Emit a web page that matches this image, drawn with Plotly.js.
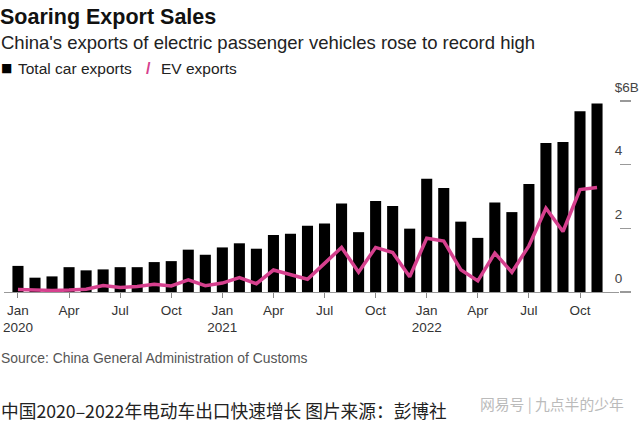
<!DOCTYPE html>
<html>
<head>
<meta charset="utf-8">
<script src="https://cdn.plot.ly/plotly-3.0.1.min.js"></script>
<style>html,body{margin:0;padding:0;background:#fff;}#chart{width:640px;height:422px;}</style>
</head>
<body>
<div id="chart"></div>
<script>
const months = ["2020-01","2020-02","2020-03","2020-04","2020-05","2020-06","2020-07","2020-08","2020-09","2020-10","2020-11","2020-12",
  "2021-01","2021-02","2021-03","2021-04","2021-05","2021-06","2021-07","2021-08","2021-09","2021-10","2021-11","2021-12",
  "2022-01","2022-02","2022-03","2022-04","2022-05","2022-06","2022-07","2022-08","2022-09","2022-10","2022-11"];
const totalCarExports = [0.82,0.45,0.49,0.78,0.68,0.71,0.78,0.78,0.94,0.97,1.33,1.17,
  1.40,1.53,1.36,1.79,1.83,2.08,2.15,2.78,1.88,2.86,2.70,1.99,
  3.56,3.27,2.21,1.70,2.81,2.51,3.39,4.68,4.71,5.68,5.92];
const evExports = [0.08,0.06,0.05,0.06,0.09,0.20,0.14,0.17,0.24,0.19,0.38,0.20,
  0.28,0.45,0.26,0.69,0.55,0.40,0.90,1.40,0.62,1.40,1.24,0.48,
  1.69,1.60,0.70,0.35,1.22,0.62,1.45,2.63,1.90,3.22,3.28];
const xTickVals = ["2020-01","2020-04","2020-07","2020-10","2021-01","2021-04","2021-07","2021-10","2022-01","2022-04","2022-07","2022-10"];
const xTickText = ["Jan<br>2020","Apr","Jul","Oct","Jan<br>2021","Apr","Jul","Oct","Jan<br>2022","Apr","Jul","Oct"];
const yTickVals = [0,2,4,6];
const yTickText = ["0","2","4","$6B"];

const FONT = '"Liberation Sans", Arial, Helvetica, sans-serif';
const PINK = '#d6408e';

const traces = [
  {type:'bar', x:months, y:totalCarExports, name:'Total car exports', marker:{color:'#000'}, showlegend:false, hoverinfo:'x+y'},
  {type:'scatter', mode:'lines', x:months, y:evExports, name:'EV exports', line:{color:PINK, width:3.5}, showlegend:false}
];

const layout = {
  width:640, height:422,
  margin:{l:4, r:21, t:101, b:130, autoexpand:false},
  paper_bgcolor:'#fff', plot_bgcolor:'#fff',
  font:{family:FONT, color:'#222'},
  bargap:0.35,
  title:{text:'<b>Soaring Export Sales</b>', x:0, xref:'container', xanchor:'left', y:0.962, yref:'container', yanchor:'middle',
    font:{family:FONT, size:21.5, color:'#111'}, pad:{l:0}},
  xaxis:{type:'category', range:[-0.82, 35.29], tickmode:'array', tickvals:xTickVals, ticktext:xTickText,
    ticks:'outside', ticklen:5, tickcolor:'#888', tickwidth:1,
    showline:true, linecolor:'#999', linewidth:1.3, showgrid:false, zeroline:false,
    tickfont:{family:FONT, size:13.5, color:'#333'}, automargin:false},
  yaxis:{side:'right', range:[0,6], tickmode:'array', tickvals:yTickVals, ticktext:yTickText,
    ticks:'outside', ticklen:11, tickcolor:'#999', tickwidth:1.3,
    showline:false, showgrid:false, zeroline:false,
    ticklabelstandoff:-19, ticklabelshift:-14,
    tickfont:{family:FONT, size:13.5, color:'#444'}, automargin:false},
  annotations:[
    {text:"China's exports of electric passenger vehicles rose to record high", xref:'paper', yref:'paper', x:0, y:1, xshift:-5, yshift:59,
      xanchor:'left', yanchor:'middle', showarrow:false, font:{family:FONT, size:18.5, color:'#222'}},
    {text:'■', xref:'paper', yref:'paper', x:0, y:1, xshift:-5, yshift:33, xanchor:'left', yanchor:'middle', showarrow:false,
      font:{family:'DejaVu Sans', size:12, color:'#000'}},
    {text:'Total car exports', xref:'paper', yref:'paper', x:0, y:1, xshift:12, yshift:33, xanchor:'left', yanchor:'middle', showarrow:false,
      font:{family:FONT, size:15.5, color:'#222'}},
    {text:'<b>/</b>', xref:'paper', yref:'paper', x:0, y:1, xshift:140, yshift:33, xanchor:'left', yanchor:'middle', showarrow:false,
      font:{family:FONT, size:16, color:PINK}},
    {text:'EV exports', xref:'paper', yref:'paper', x:0, y:1, xshift:155, yshift:33, xanchor:'left', yanchor:'middle', showarrow:false,
      font:{family:FONT, size:15.5, color:'#222'}},
    {text:'Source: China General Administration of Customs', xref:'paper', yref:'paper', x:0, y:0, xshift:-5, yshift:-66,
      xanchor:'left', yanchor:'middle', showarrow:false, font:{family:FONT, size:13.9, color:'#555'}},
    {text:'中国2020–2022年电动车出口快速增长 图片来源：彭博社', xref:'paper', yref:'paper', x:0, y:0, xshift:-5, yshift:-118,
      xanchor:'left', yanchor:'middle', showarrow:false, font:{family:'"Noto Sans CJK SC", sans-serif', size:17.7, color:'#222'}},
    {text:'网易号 | 九点半的少年', xref:'paper', yref:'paper', x:1, y:0, xshift:7, yshift:-111,
      xanchor:'right', yanchor:'middle', showarrow:false, font:{family:'"Noto Sans CJK SC", sans-serif', size:14.8, color:'#bbb'}}
  ]
};

Plotly.newPlot('chart', traces, layout, {displayModeBar:false, staticPlot:true});
</script>
</body>
</html>
